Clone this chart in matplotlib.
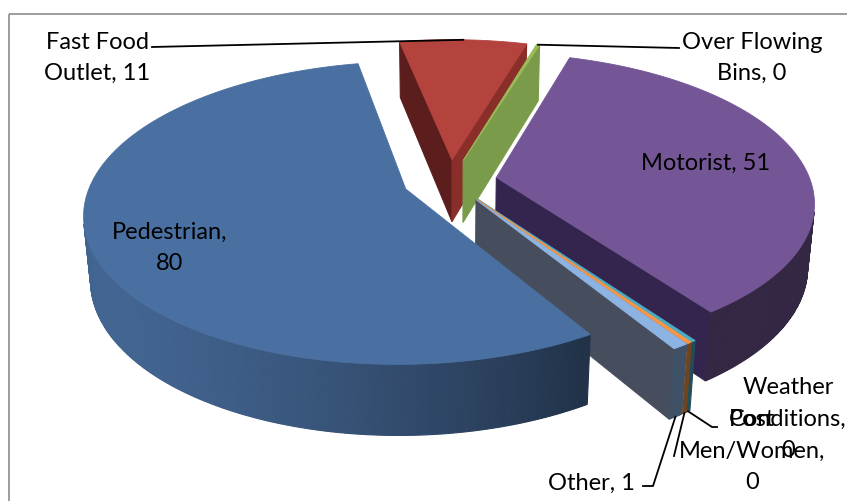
import numpy as np
import matplotlib
matplotlib.use('Agg')
import matplotlib.pyplot as plt
from matplotlib.patches import Polygon, Rectangle

# data, in the order the slices are laid out (clockwise)
categories = ['Pedestrian', 'Fast Food Outlet', 'Over Flowing Bins', 'Motorist',
              'Weather Conditions', 'Post Men/Women', 'Other']
counts = [80, 11, 0, 51, 0, 0, 1]
label_fmt = ['Pedestrian,\n{}', 'Fast Food\nOutlet, {}', 'Over Flowing\nBins, {}',
             'Motorist, {}', 'Weather\nConditions,\n{}', 'Post\nMen/Women,\n{}',
             'Other, {}']

# label centres (pixels) and leader routes
label_xy = [(170, 248), (97, 58), (752, 58), (706, 163), (788, 419), (752, 451), (591, 483)]
leader_to = {1: [(152, 48)], 2: [(679, 49)], 4: [(712, 428), (717, 428)],
             5: [(674, 457)], 6: [(653, 487), (643, 487)]}

top_colors = ['#4A70A2', '#B4423D', '#9BBB59', '#745696', '#4BACC6', '#F79646', '#8DB3E2']
start_wall = ['#2E4B72', '#5C1E1C', '#6E8E3E', '#34254E', '#2F7E93', '#B5652A', '#464E5E']
end_wall = ['#2E4B72', '#8A2E2A', '#7A9C4A', '#34254E', '#3A8FA6', '#C8743A', '#464E5E']

# 3d view settings (Excel style 3-D exploded pie)
W, H = 847, 502
FIRST_ANGLE = 148.5      # degrees clockwise from 12 o'clock
MIN_SWEEP = 0.7          # zero slices still get drawn as a thin sliver
EXPLODE = 0.15
THICK = 0.23
ELEV = np.radians(27.5)
DIST = 5.65
FOCAL = 1775
CX, CY = 450, 182
se, ce = np.sin(ELEV), np.cos(ELEV)
cam = np.array([0, -DIST * ce, DIST * se])


def depth(p):
    return DIST + p[1] * ce - p[2] * se


def project(p):
    d = depth(p)
    return CX + FOCAL * p[0] / d, CY - FOCAL * (p[1] * se + p[2] * ce) / d


def shade(hexcol, k):
    rgb = np.array(matplotlib.colors.to_rgb(hexcol))
    return tuple(np.clip(rgb * k, 0, 1))


total = float(sum(counts))
sweeps = np.array([max(c / total * 360, MIN_SWEEP) for c in counts])
big = np.array([c > 0 for c in counts])
extra = sweeps.sum() - 360
sweeps[big] -= extra * sweeps[big] / sweeps[big].sum()
starts = FIRST_ANGLE + np.concatenate([[0], np.cumsum(sweeps)[:-1]])

fig = plt.figure(figsize=(W / 100, H / 100), dpi=100)
ax = fig.add_axes([0, 0, 1, 1])
ax.set_xlim(0, W)
ax.set_ylim(H, 0)
ax.axis('off')

slices = []
for i in range(len(counts)):
    a0 = np.radians(starts[i])
    a1 = np.radians(starts[i] + sweeps[i])
    mid = (a0 + a1) / 2
    ox, oy = EXPLODE * np.sin(mid), EXPLODE * np.cos(mid)
    n = max(3, int(sweeps[i] / 0.5) + 2)
    ts = np.linspace(a0, a1, n)
    arc = [(ox + np.sin(t), oy + np.cos(t)) for t in ts]
    apex = (ox, oy)
    faces = []
    # curved outer wall
    for j in range(n - 1):
        tm = (ts[j] + ts[j + 1]) / 2
        quad = [(*arc[j], 0), (*arc[j + 1], 0), (*arc[j + 1], -THICK), (*arc[j], -THICK)]
        nrm = np.array([np.sin(tm), np.cos(tm), 0])
        cen = np.mean(quad, axis=0)
        if np.dot(nrm, cam - cen) > 0:
            k = 0.45 + 0.45 * max(0, np.cos(tm - np.radians(240)))
            faces.append((depth(cen), quad, shade(top_colors[i], k)))
    # flat radial walls
    for t, nrm, col in [(a0, (-np.cos(a0), np.sin(a0), 0), start_wall[i]),
                        (a1, (np.cos(a1), -np.sin(a1), 0), end_wall[i])]:
        outer = (ox + np.sin(t), oy + np.cos(t))
        quad = [(*apex, 0), (*outer, 0), (*outer, -THICK), (*apex, -THICK)]
        cen = np.mean(quad, axis=0)
        if np.dot(nrm, cam - cen) > 0:
            faces.append((depth(cen), quad, col))
    faces.sort(key=lambda f: -f[0])
    top = [(*apex, 0)] + [(*p, 0) for p in arc]
    pts = [(*apex, 0), (*apex, -THICK)] + [(*p, z) for p in arc for z in (0, -THICK)]
    key = min(depth(p) for p in pts)
    slices.append((key, i, faces, top))

slices.sort(key=lambda s: -s[0])
for key, i, faces, top in slices:
    for d, quad, col in faces:
        ax.add_patch(Polygon([project(p) for p in quad], closed=True,
                             facecolor=col, edgecolor=col, lw=0.8))
    ax.add_patch(Polygon([project(p) for p in top], closed=True,
                         facecolor=top_colors[i], edgecolor=top_colors[i], lw=0.6))

# data labels
FONT = 'Lato'
FS = 17
PITCH = 31.5
for i, fmt in enumerate(label_fmt):
    lines = fmt.format(counts[i]).split('\n')
    lx, ly = label_xy[i]
    for k, line in enumerate(lines):
        ax.text(lx, ly + (k - (len(lines) - 1) / 2) * PITCH, line, ha='center',
                va='center', fontsize=FS, family=FONT, color='black')

# leader lines
for i, route in leader_to.items():
    mid = np.radians(starts[i] + sweeps[i] / 2)
    ox, oy = EXPLODE * np.sin(mid), EXPLODE * np.cos(mid)
    z = 0 if i in (1, 2) else -THICK
    sx, sy = project((ox + np.sin(mid), oy + np.cos(mid), z))
    xs = [sx] + [p[0] for p in route]
    ys = [sy] + [p[1] for p in route]
    ax.plot(xs, ys, color='black', lw=1.3)

ax.add_patch(Rectangle((8.5, 14.5), 860, 520, fill=False, edgecolor='#8C8C8C', lw=1.2))

plt.savefig('out.png', dpi=100)
